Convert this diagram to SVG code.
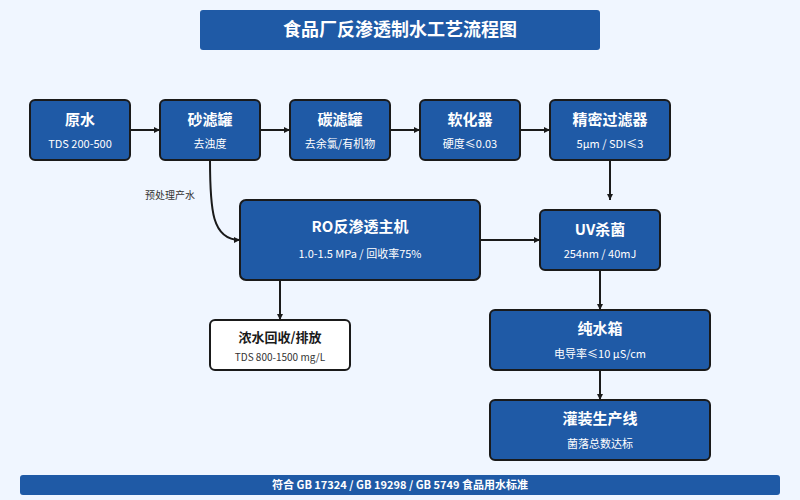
<svg xmlns="http://www.w3.org/2000/svg" width="800" height="500" viewBox="0 0 800 500">
<style>
text{font-family:"Noto Sans CJK SC","Noto Sans",sans-serif;text-anchor:middle}
.n{fill:#1f5aa6;stroke:#1a1a1a;stroke-width:2}
.t{fill:#fff;font-size:15px;font-weight:bold}
.s{fill:#fff;font-size:11px}
.c{fill:none;stroke:#1a1a1a;stroke-width:2;marker-end:url(#a)}
</style>
<defs><marker id="a" viewBox="0 0 10 10" refX="10" refY="5" markerWidth="6" markerHeight="6" orient="auto" markerUnits="userSpaceOnUse"><path d="M0 0L10 5L0 10z" fill="#1a1a1a"/></marker></defs>
<rect width="800" height="500" fill="#f0f6ff"/>
<g id="title"><rect x="200" y="10" width="400" height="40" rx="3" fill="#1f5aa6"/><text x="400" y="36" fill="#fff" font-size="18" font-weight="bold">食品厂反渗透制水工艺流程图</text></g>
<g id="connectors">
<path class="c" d="M130 130H160"/>
<path class="c" d="M260 130H290"/>
<path class="c" d="M390 130H420"/>
<path class="c" d="M520 130H550"/>
<path class="c" d="M610 160V200"/>
<path class="c" d="M210 160C210 210 212 240 240 240"/>
<path class="c" d="M480 240H540"/>
<path class="c" d="M280 280V320"/>
<path class="c" d="M600 270V310"/>
<path class="c" d="M600 370V400"/>
<text x="170" y="199" font-size="10" fill="#333">预处理产水</text>
</g>
<g id="n1"><rect class="n" x="30" y="100" width="100" height="60" rx="5"/><text class="t" x="80" y="125" font-size="16">原水</text><text class="s" x="80" y="148">TDS 200-500</text></g>
<g id="n2"><rect class="n" x="160" y="100" width="100" height="60" rx="5"/><text class="t" x="210" y="125">砂滤罐</text><text class="s" x="210" y="148">去浊度</text></g>
<g id="n3"><rect class="n" x="290" y="100" width="100" height="60" rx="5"/><text class="t" x="340" y="125">碳滤罐</text><text class="s" x="340" y="148">去余氯/有机物</text></g>
<g id="n4"><rect class="n" x="420" y="100" width="100" height="60" rx="5"/><text class="t" x="470" y="125">软化器</text><text class="s" x="470" y="148">硬度≤0.03</text></g>
<g id="n5"><rect class="n" x="550" y="100" width="120" height="60" rx="5"/><text class="t" x="610" y="125">精密过滤器</text><text class="s" x="610" y="148">5μm / SDI≤3</text></g>
<g id="ro"><rect class="n" x="240" y="200" width="240" height="80" rx="6" stroke-width="3"/><text class="t" x="360" y="232" font-size="19">RO反渗透主机</text><text class="s" x="360" y="258" font-size="12">1.0-1.5 MPa / 回收率75%</text></g>
<g id="uv"><rect class="n" x="540" y="210" width="120" height="60" rx="5"/><text class="t" x="600" y="235">UV杀菌</text><text class="s" x="600" y="258">254nm / 40mJ</text></g>
<g id="conc"><rect x="210" y="320" width="140" height="50" rx="5" fill="#fff" stroke="#1a1a1a" stroke-width="2"/><text x="280" y="342" font-size="13" font-weight="bold" fill="#1a1a1a">浓水回收/排放</text><text x="280" y="361" font-size="10" fill="#333">TDS 800-1500 mg/L</text></g>
<g id="tank"><rect class="n" x="490" y="310" width="220" height="60" rx="5"/><text class="t" x="600" y="334" font-size="16">纯水箱</text><text class="s" x="600" y="358">电导率≤10 μS/cm</text></g>
<g id="fill"><rect class="n" x="490" y="400" width="220" height="60" rx="5"/><text class="t" x="600" y="424" font-size="16">灌装生产线</text><text class="s" x="600" y="448">菌落总数达标</text></g>
<g id="footer"><rect x="20" y="475" width="760" height="20" rx="3" fill="#1f5aa6"/><text x="400" y="489" fill="#fff" font-size="11" font-weight="bold">符合 GB 17324 / GB 19298 / GB 5749 食品用水标准</text></g>
</svg>
